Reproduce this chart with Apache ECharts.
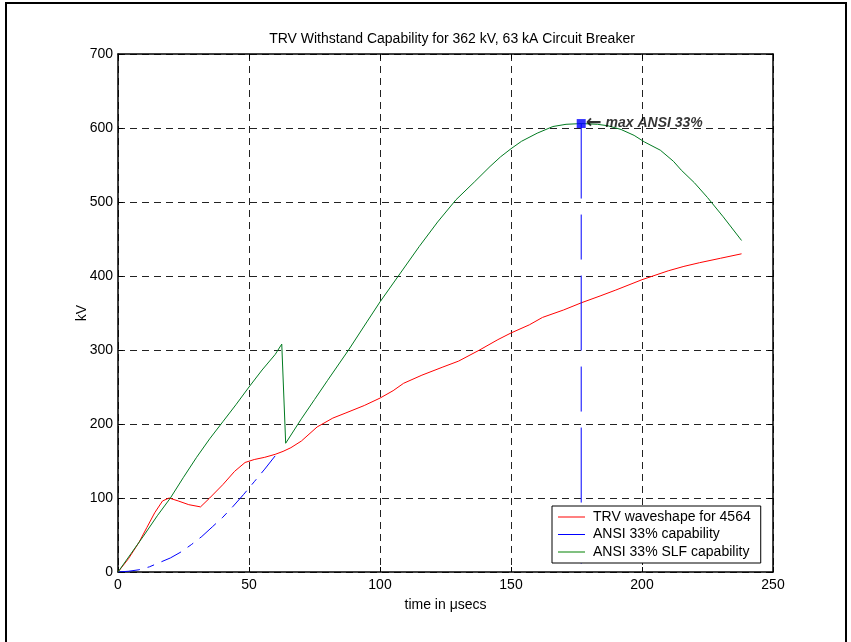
<!DOCTYPE html>
<html>
<head>
<meta charset="utf-8">
<script src="https://cdn.jsdelivr.net/npm/echarts@6/dist/echarts.min.js"></script>
<style>
  html, body { margin: 0; padding: 0; background: #fff; }
  #main { width: 851px; height: 642px; }
</style>
</head>
<body>
<div id="main"></div>
<script>
// TRV waveshape (red)
const redT = [0, 4, 8, 11, 14, 17, 19.5, 23, 27, 31.5, 35, 40, 44.5, 48.5, 52, 56, 60, 63, 66, 70, 76, 82, 87, 94, 100, 105, 109, 116, 124, 130, 138, 145, 150, 157, 162, 170, 177, 184, 190, 200, 210, 216, 222, 230, 238];
const redV = [0, 18, 40, 60, 80, 96, 100, 96, 91, 88, 100, 118, 136, 148, 152, 155, 159, 163, 168, 177, 196, 208, 215, 225, 235, 245, 255, 266, 277, 285, 300, 314, 323, 334, 344, 354, 364, 373, 381, 395, 407, 413, 418, 424, 430];

// ANSI 33% capability (blue)
const blueT = [0, 4, 8, 12, 16, 20, 24, 28, 32, 36, 40, 44, 48, 52, 56, 60, 62];
const blueV = [0, 1, 3, 7, 13, 19, 27, 37, 48, 61, 74, 89, 105, 122, 139, 157, 163];

// ANSI 33% SLF capability (green)
const greenT = [0, 5, 10, 15, 20, 25, 30, 35, 40, 45, 50, 55, 60, 62.5, 64, 70, 75, 80, 88, 95, 100, 107, 115, 122, 129, 136, 142, 146, 150, 154, 160, 166, 171, 177, 183, 187, 192, 197, 201, 207, 212, 215, 220, 225, 231, 238];
const greenV = [0, 25, 50, 76, 100, 128, 155, 180, 203, 226, 250, 273, 294, 308, 174, 207, 233, 259, 300, 338, 365, 400, 440, 473, 503, 527, 548, 561, 572, 582, 593, 602, 605, 606, 605, 603, 598, 590, 581, 570, 555, 543, 526, 506, 480, 448];

// max ANSI 33% point (top first, then down to the axis)
const maxT = [176.8, 176.8];
const maxV = [606, 0];

const FONT = "Liberation Sans";

var myChart = echarts.init(document.getElementById("main"));

const gridDash = { show: true, lineStyle: { color: "#222", type: [7, 5], width: 1 } };

var option = {
  animation: false,
  backgroundColor: "#fff",
  textStyle: { fontFamily: FONT },
  title: {
    text: "TRV Withstand Capability for 362 kV, 63 kA Circuit Breaker",
    left: 447,
    top: 27,
    textAlign: "center",
    textStyle: { fontFamily: FONT, fontSize: 14, fontWeight: "normal", color: "#000" },
  },
  graphic: [
    {
      type: "rect",
      shape: { x: 6, y: 3, width: 840, height: 700 },
      style: { fill: "none", stroke: "#000", lineWidth: 2 },
      silent: true,
    },
  ],
  legend: {
    orient: "vertical",
    left: 552,
    top: 506,
    padding: [3, 10, 3, 6],
    itemGap: 1.5,
    itemWidth: 27,
    itemHeight: 1,
    icon: "rect",
    backgroundColor: "#fff",
    borderColor: "#000",
    borderWidth: 1,
    data: ["TRV waveshape for 4564", "ANSI 33% capability", "ANSI 33% SLF capability"],
    textStyle: { fontFamily: FONT, fontSize: 14, lineHeight: 16, color: "#000", padding: [0, 0, 0, 3] },
  },
  grid: { left: 118, right: 78, top: 54, bottom: 70 },
  xAxis: [
    {
      type: "value",
      min: 0,
      max: 250,
      interval: 50,
      name: "time in μsecs",
      nameLocation: "middle",
      nameGap: 26,
      nameMoveOverlap: false,
      nameTextStyle: { fontFamily: FONT, fontSize: 14, color: "#000" },
      axisLine: { show: true, onZero: false, lineStyle: { color: "#000", width: 1.5 } },
      axisTick: { show: true, inside: true, length: 5, lineStyle: { color: "#000" } },
      axisLabel: { color: "#000", fontSize: 14, fontFamily: FONT, margin: 6 },
      splitLine: gridDash,
    },
    {
      type: "value",
      position: "top",
      min: 0,
      max: 250,
      interval: 50,
      axisLine: { show: true, onZero: false, lineStyle: { color: "#000", width: 1.5 } },
      axisTick: { show: true, inside: true, length: 5, lineStyle: { color: "#000" } },
      axisLabel: { show: false },
      splitLine: { show: false },
    },
  ],
  yAxis: [
    {
      type: "value",
      min: 0,
      max: 700,
      interval: 100,
      name: "kV",
      nameLocation: "middle",
      nameGap: 29,
      nameMoveOverlap: false,
      nameTextStyle: { fontFamily: FONT, fontSize: 14, color: "#000" },
      axisLine: { show: true, onZero: false, lineStyle: { color: "#000", width: 1.5 } },
      axisTick: { show: true, inside: true, length: 5, lineStyle: { color: "#000" } },
      axisLabel: { color: "#000", fontSize: 14, fontFamily: FONT, margin: 5 },
      splitLine: gridDash,
    },
    {
      type: "value",
      position: "right",
      min: 0,
      max: 700,
      interval: 100,
      axisLine: { show: true, onZero: false, lineStyle: { color: "#000", width: 1.5 } },
      axisTick: { show: true, inside: true, length: 5, lineStyle: { color: "#000" } },
      axisLabel: { show: false },
      splitLine: { show: false },
    },
  ],
  series: [
    {
      name: "TRV waveshape for 4564",
      type: "line",
      data: redT.map((t, i) => [t, redV[i]]),
      showSymbol: false,
      color: "#ff0000",
      lineStyle: { width: 1, color: "#ff0000" },
    },
    {
      name: "ANSI 33% capability",
      type: "line",
      data: blueT.map((t, i) => [t, blueV[i]]),
      showSymbol: false,
      color: "#0000ff",
      lineStyle: { width: 1, color: "#0000ff", type: [22, 8, 7, 8] },
    },
    {
      name: "ANSI 33% SLF capability",
      type: "line",
      data: greenT.map((t, i) => [t, greenV[i]]),
      showSymbol: false,
      color: "#008000",
      lineStyle: { width: 1, color: "#007a20" },
    },
    {
      name: "maxLine",
      type: "line",
      data: maxT.map((t, i) => [t, maxV[i]]),
      showSymbol: false,
      lineStyle: { width: 1, color: "#0000ff", type: [75, 16, 45, 16] },
    },
    {
      name: "maxPoint",
      type: "scatter",
      data: [[maxT[0], maxV[0]]],
      symbol: "rect",
      symbolSize: 9,
      itemStyle: { color: "#0000ff" },
      label: {
        show: true,
        position: "right",
        distance: 0,
        formatter: "{a|←}{b| max ANSI 33%}",
        rich: {
          a: { fontFamily: "DejaVu Sans", fontSize: 19, fontWeight: "bold", color: "#000" },
          b: { fontFamily: FONT, fontSize: 14, fontWeight: "bold", fontStyle: "italic", color: "#000" },
        },
      },
      z: 5,
    },
  ],
};

myChart.setOption(option);
</script>
</body>
</html>
